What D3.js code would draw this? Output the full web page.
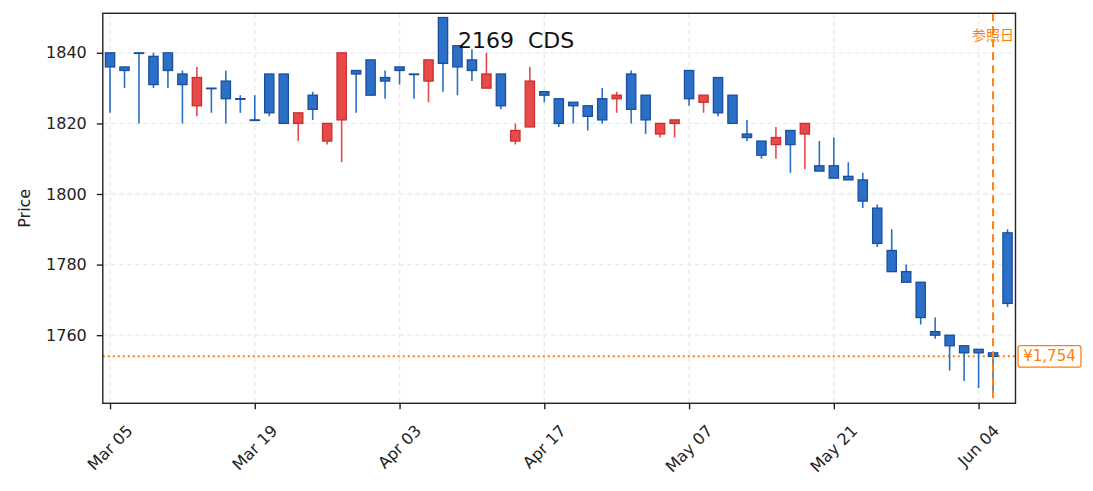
<!DOCTYPE html>
<html>
<head>
<meta charset="utf-8">
<script src="https://cdn.jsdelivr.net/npm/d3@7"></script>
<style>
  body { margin: 0; background: #fff; }
  text { font-family: "DejaVu Sans", "Noto Sans CJK JP", sans-serif; }
</style>
</head>
<body>
<div id="chart"></div>
<script>
// candle data (trading day index 0..62)
var opens  = [1840,1836,1840,1839,1840,1834,1825,1830,1832,1827,1821,1834,1834,1820,1828,1815,1821,1835,1838,1833,
              1836,1834,1832,1850,1842,1838,1830,1834,1815,1819,1829,1827,1826,1825,1827,1827,1834,1828,1817,1820,
              1835,1826,1833,1828,1817,1815,1814,1818,1817,1808,1808,1805,1804,1796,1784,1778,1775,1761,1760,1757,
              1756,1755,1789];
var highs  = [1840,1836,1840,1840,1840,1835,1836,1830,1835,1828,1828,1834,1834,1823,1829,1820,1840,1835,1838,1835,
              1836,1834,1838,1850,1842,1841,1840,1834,1820,1836,1829,1827,1826,1825,1830,1829,1835,1828,1820,1821,
              1835,1828,1833,1828,1821,1815,1819,1818,1820,1815,1816,1809,1806,1797,1790,1780,1775,1765,1760,1757,
              1756,1755,1790];
var lows   = [1823,1830,1820,1830,1830,1820,1822,1823,1820,1823,1821,1822,1820,1815,1821,1814,1809,1823,1828,1827,
              1831,1827,1826,1829,1828,1832,1830,1824,1814,1819,1826,1819,1820,1818,1820,1823,1820,1817,1816,1816,
              1825,1823,1822,1820,1815,1810,1810,1806,1807,1806.5,1804.5,1804,1796,1785,1778,1775,1763,1759,1750,1747,
              1745,1744,1768];
var closes = [1836,1835,1840,1831,1835,1831,1833,1830,1827,1827,1821,1823,1820,1823,1824,1820,1840,1834,1828,1832,
              1835,1834,1838,1837,1836,1835,1834,1825,1818,1832,1828,1820,1825,1822,1821,1828,1824,1821,1820,1821,
              1827,1828,1823,1820,1816,1811,1816,1814,1820,1806.5,1804.5,1804,1798,1786,1778,1775,1765,1760,1757,1755,
              1755,1754,1769];

// x tick labels
var tickIndex  = [0, 10, 20, 30, 40, 50, 60];
var tickLabels = ["Mar 05", "Mar 19", "Apr 03", "Apr 17", "May 07", "May 21", "Jun 04"];
var yTicks = [1760, 1780, 1800, 1820, 1840];

// reference day / price
var refIndex = 61;
var refPrice = 1754;
var titleText = "2169  CDS";

var candles = opens.map(function(o, i) {
  return {i: i, o: o, h: highs[i], l: lows[i], c: closes[i]};
});

// dimensions
var margin = {top: 13.3, right: 1093 - 1015.5, bottom: 491 - 403.3, left: 102.8},
  width = 1093 - margin.left - margin.right,
  height = 491 - margin.top - margin.bottom;

var svgRoot = d3.select("#chart")
  .append("svg")
  .attr("width", 1093)
  .attr("height", 491);

var svg = svgRoot.append("g")
  .attr("transform", "translate(" + margin.left + "," + margin.top + ")");

var x = d3.scaleLinear().domain([-0.5, 62.55]).range([0, width]);
var y = d3.scaleLinear().domain([1740.7, 1851.2]).range([height, 0]);

svg.append("clipPath").attr("id", "clip")
  .append("rect").attr("width", width).attr("height", height);

// grid
var grid = svg.append("g");
grid.selectAll(".gx").data(tickIndex).enter().append("line")
  .attr("x1", d => x(d)).attr("x2", d => x(d))
  .attr("y1", 0).attr("y2", height)
  .attr("stroke", "#ebebeb").attr("stroke-width", 1.3).attr("stroke-dasharray", "5,3");
grid.selectAll(".gy").data(yTicks).enter().append("line")
  .attr("x1", 0).attr("x2", width)
  .attr("y1", d => y(d)).attr("y2", d => y(d))
  .attr("stroke", "#ebebeb").attr("stroke-width", 1.3).attr("stroke-dasharray", "5,3");

// reference price line
var plot = svg.append("g").attr("clip-path", "url(#clip)");
plot.append("line")
  .attr("x1", 0).attr("x2", width)
  .attr("y1", y(refPrice)).attr("y2", y(refPrice))
  .attr("stroke", "#ff7f0e").attr("stroke-width", 2).attr("stroke-dasharray", "2,3");

// candles
var step = x(1) - x(0);
var bodyW = step * 0.64;
function isUp(d) { return d.c > d.o; }

plot.selectAll(".wick").data(candles).enter().append("line")
  .attr("x1", d => x(d.i)).attr("x2", d => x(d.i))
  .attr("y1", d => y(d.h)).attr("y2", d => y(d.l))
  .attr("stroke", d => isUp(d) ? "#e8494a" : "#2a6fc6")
  .attr("stroke-width", 1.6);

plot.selectAll(".body").data(candles).enter().append("rect")
  .attr("x", d => x(d.i) - bodyW / 2)
  .attr("width", bodyW)
  .attr("y", d => y(Math.max(d.o, d.c)))
  .attr("height", d => Math.max(0.6, Math.abs(y(d.o) - y(d.c))))
  .attr("fill", d => isUp(d) ? "#e84a4a" : "#2b70c6")
  .attr("stroke", d => isUp(d) ? "#c8302e" : "#1a4e9e")
  .attr("stroke-width", 1.3);

// reference day line
plot.append("line")
  .attr("x1", x(refIndex)).attr("x2", x(refIndex))
  .attr("y1", 0).attr("y2", height)
  .attr("stroke", "#ff7f0e").attr("stroke-width", 2).attr("stroke-dasharray", "8,5");

// axes frame
svg.append("rect")
  .attr("width", width).attr("height", height)
  .attr("fill", "none").attr("stroke", "#222").attr("stroke-width", 1.4);

// y axis
var yAxis = svg.append("g")
  .call(d3.axisLeft(y).tickValues(yTicks).tickSize(6).tickPadding(10).tickFormat(d3.format("d")));
yAxis.select(".domain").remove();
yAxis.selectAll("line").attr("stroke", "#222").attr("stroke-width", 1.4);
yAxis.selectAll("text").attr("font-size", 16).attr("fill", "#222")
  .style("font-family", "'DejaVu Sans', 'Noto Sans CJK JP', sans-serif");

// x axis
var xAxis = svg.append("g")
  .attr("transform", "translate(0," + height + ")")
  .call(d3.axisBottom(x).tickValues(tickIndex).tickSize(6).tickFormat(""));
xAxis.select(".domain").remove();
xAxis.selectAll("line").attr("stroke", "#222").attr("stroke-width", 1.4);

// rotated x labels, bbox centred on the tick, top just under the axis
var labelTop = 423 - margin.top - height;
tickIndex.forEach(function(t, k) {
  var txt = xAxis.append("text")
    .attr("font-size", 16).attr("fill", "#222")
    .attr("text-anchor", "middle")
    .attr("dominant-baseline", "central")
    .style("font-family", "'DejaVu Sans', 'Noto Sans CJK JP', sans-serif")
    .text(tickLabels[k]);
  var L = txt.node().getComputedTextLength();
  var half = (L + 14) * Math.SQRT1_2 / 2;
  txt.attr("transform", "translate(" + x(t) + "," + (labelTop + half) + ") rotate(-45)");
});

// y label
svgRoot.append("text")
  .attr("transform", "translate(30," + (margin.top + height / 2) + ") rotate(-90)")
  .attr("text-anchor", "middle")
  .attr("font-size", 16).attr("fill", "#222")
  .text("Price");

// title
svgRoot.append("text")
  .attr("x", 458).attr("y", 47.5)
  .attr("font-size", 22).attr("fill", "#111")
  .style("white-space", "pre")
  .text(titleText);

// reference day label
svgRoot.append("text")
  .attr("x", margin.left + x(refIndex)).attr("y", 39.5)
  .attr("text-anchor", "middle")
  .attr("font-size", 14).attr("fill", "#ff7f0e")
  .style("font-family", "'Noto Sans CJK JP', sans-serif")
  .text("参照日");

// price tag
var tagY = margin.top + y(refPrice);
svgRoot.append("rect")
  .attr("x", 1018).attr("y", tagY - 10.8)
  .attr("width", 63).attr("height", 21.6)
  .attr("rx", 2.5)
  .attr("fill", "#fff").attr("stroke", "#ff7f0e").attr("stroke-width", 1.3);
svgRoot.append("text")
  .attr("x", 1049.5).attr("y", tagY)
  .attr("text-anchor", "middle").attr("dominant-baseline", "central")
  .attr("font-size", 15).attr("fill", "#ff7f0e")
  .text("¥" + d3.format(",")(refPrice));
</script>
</body>
</html>
